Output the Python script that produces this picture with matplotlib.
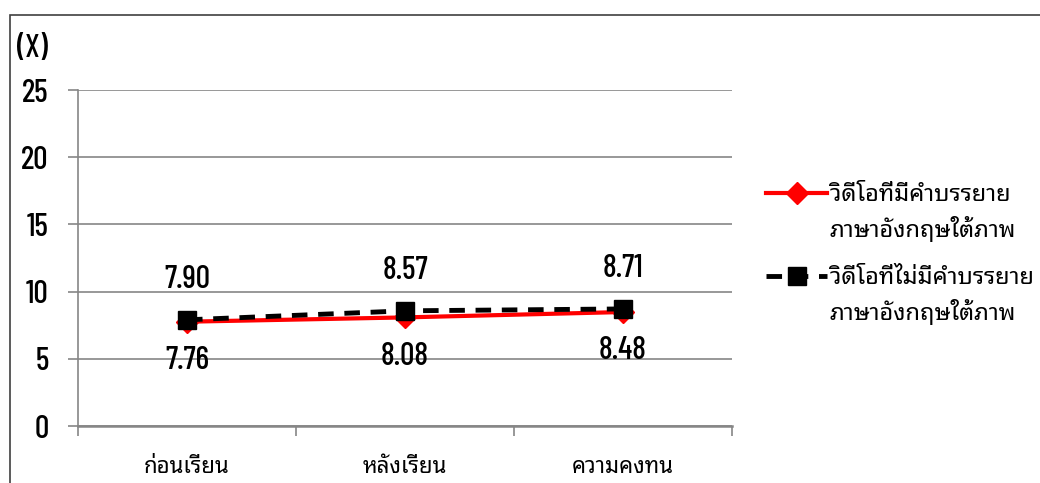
import matplotlib
matplotlib.use("Agg")
from matplotlib import pyplot as plt
from matplotlib.patches import Rectangle

# data
categories = ["ก่อนเรียน", "หลังเรียน", "ความคงทน"]
with_subs = [7.76, 8.08, 8.48]
without_subs = [7.90, 8.57, 8.71]
name_with = ["วิดีโอที่มีคำบรรยาย", "ภาษาอังกฤษใต้ภาพ"]
name_without = ["วิดีโอที่ไม่มีคำบรรยาย", "ภาษาอังกฤษใต้ภาพ"]
y_ticks = [0, 5, 10, 15, 20, 25]

NUM_FONT = ["Barlow Condensed", "Archivo Narrow", "DejaVu Sans"]
THAI_FONT = ["Noto Sans Thai Looped", "DejaVu Sans"]
GRID = "#868686"
DASH = (0, (3.2, 2.2))

fig = plt.figure(figsize=(10.4, 4.83), dpi=100)
ax = fig.add_axes([78/1040, 57/483, 654/1040, 336/483])

xs = list(range(len(categories)))
ax.plot(xs, with_subs, color="#ff0000", lw=3, marker="D", ms=11,
        solid_capstyle="round", zorder=3)
ax.plot(xs, without_subs, color="black", lw=3.5, ls=DASH,
        marker="s", ms=13, zorder=4)

for x, v in zip(xs, without_subs):
    ax.annotate("%.2f" % v, (x, v), xytext=(0, 29), textcoords="offset points",
                ha="center", va="center", fontsize=23, family=NUM_FONT, weight="medium")
for x, v in zip(xs, with_subs):
    ax.annotate("%.2f" % v, (x, v), xytext=(0, -28), textcoords="offset points",
                ha="center", va="center", fontsize=23, family=NUM_FONT, weight="medium")

ax.set_xlim(-0.5, len(categories) - 0.5)
ax.set_ylim(0, 25)
ax.set_yticks(y_ticks)
ax.set_yticklabels([str(t) for t in y_ticks], family=NUM_FONT, fontsize=23, weight="medium")
ax.grid(axis="y", color=GRID, lw=1.2)
ax.set_axisbelow(True)
ax.tick_params(axis="y", length=7, width=1.2, color=GRID, pad=14)

ax.set_xticks([i - 0.5 for i in range(len(categories) + 1)])
ax.set_xticklabels([])
ax.set_xticks(xs, minor=True)
ax.set_xticklabels(categories, minor=True, family=THAI_FONT, fontsize=16)
ax.tick_params(axis="x", which="major", length=7, width=1.2, color=GRID)
ax.tick_params(axis="x", which="minor", length=0, pad=22)

for s in ["top", "right"]:
    ax.spines[s].set_visible(False)
ax.spines["left"].set_color(GRID)
ax.spines["left"].set_linewidth(1.2)
ax.spines["left"].set_bounds(0, 25)
ax.spines["bottom"].set_color(GRID)
ax.spines["bottom"].set_linewidth(1.8)

fig.text(17/1040, 1 - 49/483, "(X)", fontsize=23, family=NUM_FONT, weight="medium",
         va="center", ha="left")

# legend: first line of each name as label, second line hung under it
h1, = ax.plot([], [], color="#ff0000", lw=3, marker="D", ms=11)
h2, = ax.plot([], [], color="black", lw=3.5, ls=DASH, marker="s", ms=13)
leg = fig.legend([h1, h2], [name_with[0], name_without[0]], loc="upper left",
                 bbox_to_anchor=(754/1040, 1 - 171/483), frameon=False,
                 prop={"family": THAI_FONT, "size": 17}, handlelength=2.6,
                 handletextpad=0.1, labelspacing=2.5, borderpad=0)

fig.canvas.draw()
to_fig = fig.transFigure.inverted()
for txt, extra in zip(leg.get_texts(), [name_with[1], name_without[1]]):
    bb = txt.get_window_extent()
    fx, fy = to_fig.transform((bb.x0, bb.y0 - 10))
    fig.text(fx, fy, extra, ha="left", va="top", family=THAI_FONT, fontsize=17)

fig.add_artist(Rectangle((10/1040, -0.2), 2, 1.2 - 15/483, fill=False,
                         ec="#404040", lw=1.2, transform=fig.transFigure))

fig.savefig("out.png", dpi=100)
